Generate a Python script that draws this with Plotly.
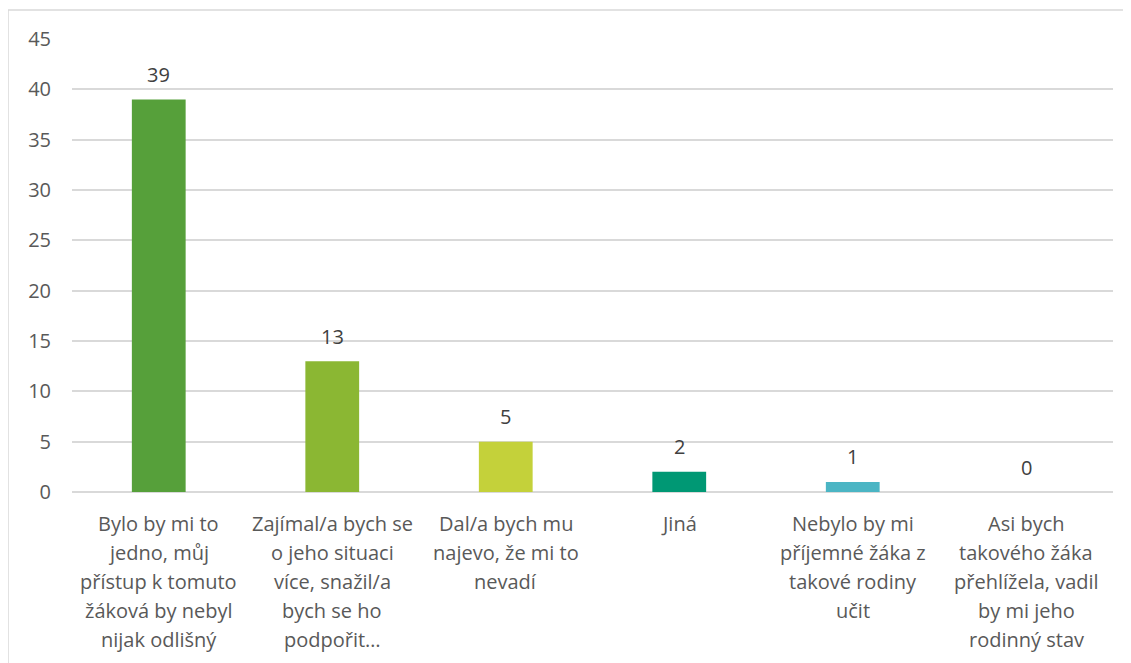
import plotly.graph_objects as go

categories = [
    "Bylo by mi to jedno",
    "Zajímal/a bych se",
    "Dal/a bych mu najevo",
    "Jiná",
    "Nebylo by mi příjemné",
    "Asi bych přehlížela",
]
label_lines = [
    ["Bylo by mi to", "jedno, můj", "přístup k tomuto", "žáková by nebyl", "nijak odlišný"],
    ["Zajímal/a bych se", "o jeho situaci", "více, snažil/a", "bych se ho", "podpořit…"],
    ["Dal/a bych mu", "najevo, že mi to", "nevadí"],
    ["Jiná"],
    ["Nebylo by mi", "příjemné žáka z", "takové rodiny", "učit"],
    ["Asi bych", "takového žáka", "přehlížela, vadil", "by mi jeho", "rodinný stav"],
]
values = [39, 13, 5, 2, 1, 0]
colors = ["#56A03A", "#8BB733", "#C4D13A", "#009874", "#4BB5C4", "#3E8FB0"]
y_ticks = [0, 5, 10, 15, 20, 25, 30, 35, 40, 45]

FONT = "'Open Sans', sans-serif"
TXT = "#595959"
FS = 20

fig = go.Figure()
fig.add_trace(go.Bar(
    x=categories, y=values, marker=dict(color=colors, line=dict(width=0)),
    width=0.31, hoverinfo="x+y",
))

annotations = []
for c, v in zip(categories, values):
    annotations.append(dict(x=c, y=v, xref="x", yref="y", text=str(v), showarrow=False,
                            yanchor="middle", yshift=25,
                            font=dict(family=FONT, size=FS, color="#404040")))
for c, lines in zip(categories, label_lines):
    for i, ln in enumerate(lines):
        annotations.append(dict(x=c, y=0, xref="x", yref="y", text=ln, showarrow=False,
                                yanchor="middle", yshift=-(31 + 29 * i),
                                font=dict(family=FONT, size=FS, color=TXT)))

fig.update_layout(
    width=1123, height=655,
    margin=dict(l=64, r=18, t=31, b=171),
    paper_bgcolor="white", plot_bgcolor="white",
    showlegend=False,
    bargap=0.69,
    annotations=annotations,
    xaxis=dict(showticklabels=False, showgrid=False, zeroline=False, showline=False,
               ticks="", range=[-0.5, 5.5]),
    yaxis=dict(range=[0, 45], tickvals=y_ticks, showgrid=True, gridcolor="#D9D9D9",
               gridwidth=1.5, zeroline=True, zerolinecolor="#D9D9D9", zerolinewidth=1.5,
               showline=False, ticks="", ticklabelstandoff=20,
               tickfont=dict(family=FONT, size=FS, color=TXT)),
    shapes=[dict(type="rect", xref="paper", yref="paper",
                 x0=(0 - 64) / 1041, x1=1.2, y0=-0.6, y1=1 + (31 - 2) / 453,
                 line=dict(color="#D9D9D9", width=1.5), fillcolor="rgba(0,0,0,0)",
                 layer="below")],
)

fig.write_html("out.html")
